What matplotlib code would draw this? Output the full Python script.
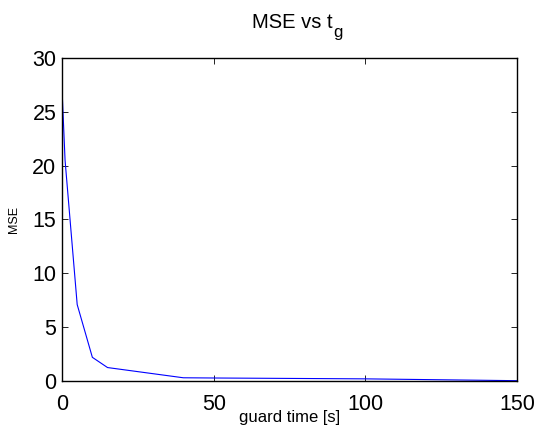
import matplotlib
matplotlib.use("Agg")
import matplotlib.pyplot as plt

guard_time = [0, 1, 5, 10, 15, 40, 50, 100, 150]
mse = [27.1, 20.5, 7.1, 2.2, 1.25, 0.3, 0.28, 0.2, 0.03]

x_ticks = [0, 50, 100, 150]
y_ticks = [0, 5, 10, 15, 20, 25, 30]

plt.rcParams['font.family'] = ['Liberation Sans', 'DejaVu Sans']

fig = plt.figure(figsize=(5.37, 4.34), dpi=100)
ax = fig.add_axes([0.1155, 0.1221, 0.8473, 0.7443])

ax.plot(guard_time, mse, color='blue', linewidth=0.8)

ax.set_xlim(0, 150)
ax.set_ylim(0, 30)
ax.set_xticks(x_ticks)
ax.set_yticks(y_ticks)
ax.tick_params(direction='in', top=True, right=True, labelsize=15.5, length=4, width=0.6)
ax.tick_params(axis='x', pad=9)
ax.tick_params(axis='y', pad=4)
for side in ax.spines.values():
    side.set_linewidth(1.0)

ax.set_xlabel('guard time [s]', fontsize=12, labelpad=-3)
ax.set_ylabel('MSE', fontsize=9, labelpad=9)

# title with a MATLAB-style low subscript
fig.text(0.620, 0.9355, 'MSE vs t', fontsize=14.5, ha='right', va='baseline')
fig.text(0.621, 0.9147, 'g', fontsize=12, ha='left', va='baseline')

fig.savefig('out.png', dpi=100)
